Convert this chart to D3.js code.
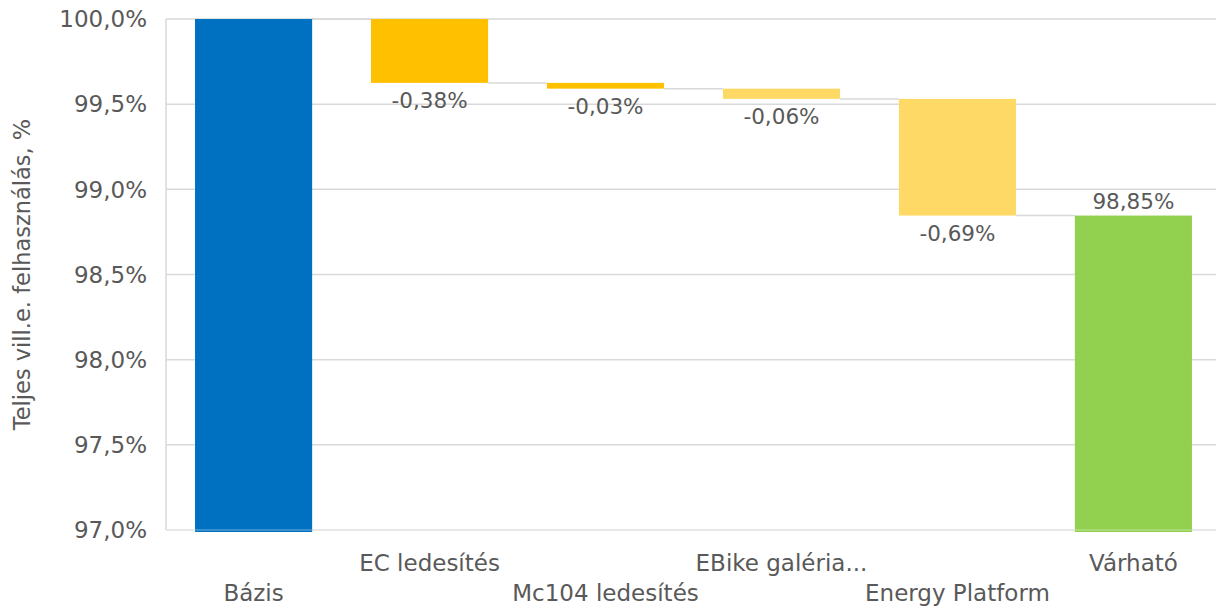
<!DOCTYPE html>
<html>
<head>
<meta charset="utf-8">
<script src="https://cdn.jsdelivr.net/npm/d3@7"></script>
<style>
  body { margin: 0; background: #fff; }
  text { font-family: "DejaVu Sans", sans-serif; fill: #595959; }
</style>
</head>
<body>
<svg id="chart" width="1216" height="606"></svg>
<script>
(function () {
var categories = ["Bázis", "EC ledesítés", "Mc104 ledesítés", "EBike galéria...", "Energy Platform", "Várható"];
var base = 100;
var deltas = [-0.375, -0.034, -0.06, -0.685];
var colors = ["#0070C0", "#FFC000", "#FFC000", "#FFD966", "#FFD966", "#92D050"];
var yTicks = [97, 97.5, 98, 98.5, 99, 99.5, 100];

var left = 166, right = 1216, top = 19, bottom = 530;

var svg = d3.select("#chart");

var loc = d3.formatLocale({ decimal: ",", thousands: " ", grouping: [3], currency: ["", ""], minus: "-" });
var fmt1 = loc.format(".1f"), fmt2 = loc.format(".2f");

var x = d3.scaleBand().domain(categories).range([left, 1221]).paddingInner(0.3345).paddingOuter(0.165);
var y = d3.scaleLinear().domain([97, 100]).range([bottom, top]);

// waterfall steps
var steps = [];
var level = base;
steps.push({ cat: categories[0], from: 97, to: base, total: true, label: null });
deltas.forEach(function (d, i) {
  steps.push({ cat: categories[i + 1], from: level, to: level + d, total: false, label: fmt2(d) + "%" });
  level = level + d;
});
steps.push({ cat: categories[5], from: 97, to: level, total: true, label: fmt2(level) + "%" });

// gridlines
svg.append("g").selectAll("line").data(yTicks).enter().append("line")
  .attr("x1", left).attr("x2", right)
  .attr("y1", function (d) { return y(d); }).attr("y2", function (d) { return y(d); })
  .attr("stroke", "#d9d9d9").attr("stroke-width", 1.5);
svg.append("line").attr("x1", left).attr("x2", left).attr("y1", y(100)).attr("y2", y(97))
  .attr("stroke", "#d9d9d9").attr("stroke-width", 1.5);

// connectors
for (var i = 0; i < steps.length - 1; i++) {
  svg.append("line")
    .attr("x1", x(steps[i].cat) + x.bandwidth()).attr("x2", x(steps[i + 1].cat))
    .attr("y1", y(steps[i].to)).attr("y2", y(steps[i].to))
    .attr("stroke", "#d9d9d9").attr("stroke-width", 1.5);
}

// bars
svg.append("g").selectAll("rect").data(steps).enter().append("rect")
  .attr("x", function (d) { return x(d.cat); })
  .attr("width", x.bandwidth())
  .attr("y", function (d) { return y(Math.max(d.from, d.to)); })
  .attr("height", function (d) {
    return Math.abs(y(d.from) - y(d.to)) + (d.total ? 2 : 0);
  })
  .attr("fill", function (d, i) { return colors[i]; });

// bottom axis line over total bars
svg.append("line").attr("x1", left).attr("x2", right).attr("y1", y(97)).attr("y2", y(97))
  .attr("stroke", "#ffffff").attr("stroke-opacity", 0.45).attr("stroke-width", 1.2);

// data labels
svg.append("g").selectAll("text").data(steps.filter(function (d) { return d.label; })).enter().append("text")
  .attr("x", function (d) { return x(d.cat) + x.bandwidth() / 2; })
  .attr("y", function (d) { return d.total ? y(d.to) - 7 : y(Math.min(d.from, d.to)) + 25; })
  .attr("text-anchor", "middle")
  .attr("font-size", "21.5px")
  .text(function (d) { return d.label; });

// y tick labels
svg.append("g").selectAll("text").data(yTicks).enter().append("text")
  .attr("x", 147).attr("y", function (d) { return y(d); }).attr("dy", "0.36em")
  .attr("text-anchor", "end").attr("font-size", "23px")
  .text(function (d) { return fmt1(d) + "%"; });

// category labels, staggered
svg.append("g").selectAll("text").data(categories).enter().append("text")
  .attr("x", function (d) { return x(d) + x.bandwidth() / 2; })
  .attr("y", function (d, i) { return i % 2 === 0 ? 601 : 571; })
  .attr("text-anchor", "middle").attr("font-size", "23px")
  .text(function (d) { return d; });

// axis title
svg.append("text")
  .attr("transform", "translate(30," + ((top + bottom) / 2) + ") rotate(-90)")
  .attr("text-anchor", "middle").attr("font-size", "22.5px")
  .text("Teljes vill.e. felhasználás, %");
})();
</script>
</body>
</html>
